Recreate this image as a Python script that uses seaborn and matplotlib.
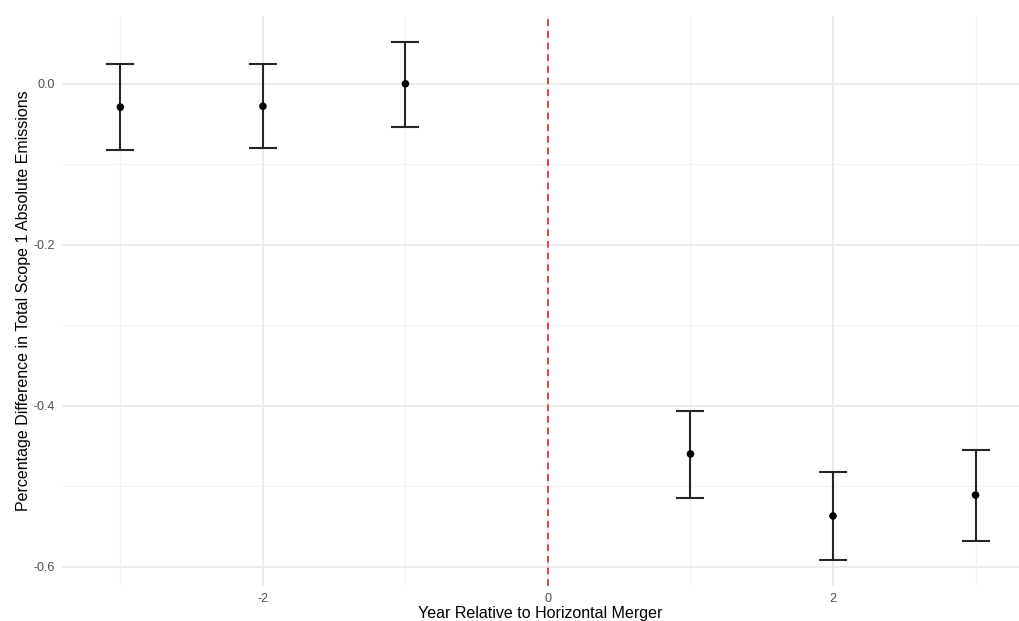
import numpy as np
import pandas as pd
import matplotlib
matplotlib.use("Agg")
import matplotlib.pyplot as plt
import seaborn as sns

years = [-3, -2, -1, 1, 2, 3]
estimate = [-0.029, -0.028, 0.0, -0.460, -0.537, -0.511]
lower = [-0.082, -0.080, -0.054, -0.515, -0.592, -0.568]
upper = [0.025, 0.025, 0.052, -0.406, -0.482, -0.455]

df = pd.DataFrame({"year": years, "est": estimate, "lo": lower, "hi": upper})

sns.set_theme(style="white")
plt.rcParams["font.family"] = ["Liberation Sans", "DejaVu Sans"]

fig = plt.figure(figsize=(10.19, 6.21), dpi=100)
ax = fig.add_axes([0.0608, 0.0564, 0.9392, 0.9176])

# grid like theme_minimal
for y in [0.0, -0.2, -0.4, -0.6]:
    ax.axhline(y, color="#ebebeb", lw=1.3, zorder=0)
for y in [-0.1, -0.3, -0.5]:
    ax.axhline(y, color="#f2f2f2", lw=0.9, zorder=0)
for x in [-2, 0, 2]:
    ax.axvline(x, color="#ebebeb", lw=1.3, zorder=0)
for x in [-3, -1, 1, 3]:
    ax.axvline(x, color="#f2f2f2", lw=0.9, zorder=0)

ax.axvline(0, color="#e8202a", lw=1.2, ls=(0, (4, 3)), zorder=1)

ax.errorbar(df["year"], df["est"],
            yerr=[df["est"] - df["lo"], df["hi"] - df["est"]],
            fmt="none", ecolor="#262626", elinewidth=1.5, capsize=10, capthick=1.5, zorder=2)
sns.scatterplot(data=df, x="year", y="est", color="black", s=30, edgecolor="none", zorder=3, ax=ax)

ax.set_xlim(-3.41, 3.305)
ax.set_ylim(-0.624, 0.084)
ax.set_xticks([-2, 0, 2])
ax.set_xticklabels(["-2", "0", "2"])
ax.set_yticks([0.0, -0.2, -0.4, -0.6])
ax.set_yticklabels(["0.0", "-0.2", "-0.4", "-0.6"])
ax.tick_params(axis="both", labelsize=9, colors="#4d4d4d", length=0, pad=5)
for s in ax.spines.values():
    s.set_visible(False)

ax.set_xlabel("Year Relative to Horizontal Merger", fontsize=11.5, color="black", labelpad=1)
ax.set_ylabel("Percentage Difference in Total Scope 1 Absolute Emissions", fontsize=11.5, color="black", labelpad=2)

fig.savefig("out.png", dpi=100)
